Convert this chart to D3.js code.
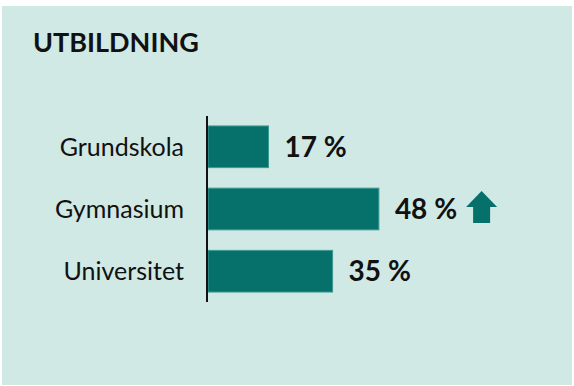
<!DOCTYPE html>
<html>
<head>
<meta charset="utf-8">
<script src="https://cdn.jsdelivr.net/npm/d3@7"></script>
<style>
  html, body { margin: 0; padding: 0; background: #ffffff; }
  svg { display: block; }
</style>
</head>
<body>
<svg id="chart" width="574" height="386"></svg>
<script>
// Education level shares
const title = "UTBILDNING";
const categories = ["Grundskola", "Gymnasium", "Universitet"];
const values = [17, 48, 35];
const trends = [null, "up", null];

const W = 574, H = 386;
const svg = d3.select("#chart");

// Panel background
svg.append("rect")
  .attr("x", 2).attr("y", 6)
  .attr("width", 570).attr("height", 379)
  .attr("fill", "#d0e9e5");

svg.append("text")
  .attr("x", 33).attr("y", 52)
  .attr("font-family", "Lato, 'Open Sans', sans-serif")
  .attr("font-weight", 700)
  .attr("font-size", 27)
  .attr("fill", "#111")
  .text(title);

const x = d3.scaleLinear().domain([0, 100]).range([208, 564]);
const y = d3.scaleBand().domain(categories).range([116, 302])
  .paddingInner(0.33).paddingOuter(0.16);

const rows = categories.map((c, i) => ({ cat: c, value: values[i], trend: trends[i] }));

// Bars
svg.append("g").selectAll("rect").data(rows).join("rect")
  .attr("x", x(0))
  .attr("y", d => y(d.cat))
  .attr("width", d => x(d.value) - x(0))
  .attr("height", y.bandwidth())
  .attr("fill", "#06706b")
  .attr("stroke", "#3f9a93")
  .attr("stroke-width", 1);

// Category axis
const axis = svg.append("g")
  .attr("transform", `translate(${x(0) - 1},0)`)
  .call(d3.axisLeft(y).tickSize(0).tickPadding(23));
axis.select(".domain")
  .attr("d", `M0,116V302`)
  .attr("stroke", "#111")
  .attr("stroke-width", 2);
axis.selectAll(".tick text")
  .attr("font-family", "Lato, 'Open Sans', sans-serif")
  .attr("font-size", 25)
  .attr("fill", "#111")
  .attr("dy", "0.35em");

// Value labels
const labels = svg.append("g").selectAll("text").data(rows).join("text")
  .attr("x", d => x(d.value) + 16)
  .attr("y", d => y(d.cat) + y.bandwidth() / 2)
  .attr("dy", "0.36em")
  .attr("font-family", "Lato, 'Open Sans', sans-serif")
  .attr("font-weight", 700)
  .attr("font-size", 28)
  .attr("fill", "#111")
  .text(d => `${d.value} %`);

// Trend arrows after the labels
labels.each(function(d) {
  if (d.trend !== "up") return;
  const bb = this.getBBox();
  const ax = bb.x + bb.width + 9;
  const cy = y(d.cat) + y.bandwidth() / 2;
  const top = cy - 18, w = 31, h = 32, head = 16, shaft = 17;
  const sx = ax + (w - shaft) / 2;
  svg.append("path")
    .attr("d", `M${ax + w / 2},${top} L${ax + w},${top + head} L${sx + shaft},${top + head} L${sx + shaft},${top + h} L${sx},${top + h} L${sx},${top + head} L${ax},${top + head} Z`)
    .attr("fill", "#06706b");
});
</script>
</body>
</html>
